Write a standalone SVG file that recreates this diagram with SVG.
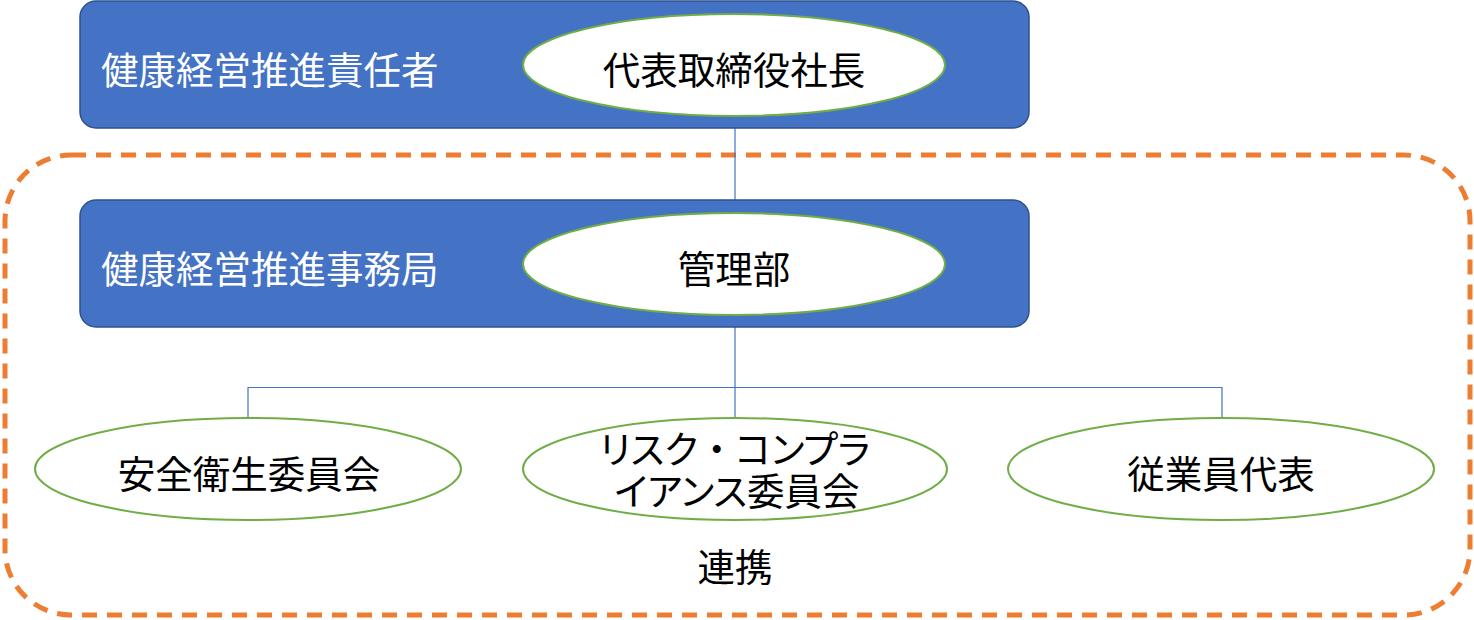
<svg xmlns="http://www.w3.org/2000/svg" width="1474" height="620" viewBox="0 0 1474 620">
<style>
.box{fill:#4472C4;stroke:#2F528F;stroke-width:1.5}
.ell{fill:#fff;stroke:#70AD47;stroke-width:2}
.wt{fill:#fff;font-family:"Noto Sans CJK JP","Noto Sans CJK SC",sans-serif;font-size:37.5px}
.bt{fill:#000;font-family:"Noto Sans CJK JP","Noto Sans CJK SC",sans-serif;font-size:37.5px;text-anchor:middle}
.palt{font-feature-settings:"palt"}
.nopalt{font-feature-settings:normal}
.con{stroke:#4472C4;stroke-width:1.2;fill:none}
</style>
<rect width="1474" height="620" fill="#fff"/>
<g id="group-border">
<rect x="5" y="155" width="1465" height="460" rx="66" ry="66" fill="none" stroke="#ED7D31" stroke-width="5" stroke-dasharray="15 10"/>
</g>
<g id="connectors">
<line class="con" x1="735" y1="128" x2="735" y2="200"/>
<line class="con" x1="735" y1="327" x2="735" y2="418"/>
<polyline class="con" points="248,418 248,387.5 1222,387.5 1222,418"/>
</g>
<g id="node-responsible">
<rect class="box" x="80" y="1" width="949" height="127" rx="16" ry="16"/>
<text class="wt" x="101" y="84">健康経営推進責任者</text>
</g>
<g id="node-president">
<ellipse class="ell" cx="734" cy="65" rx="211" ry="51"/>
<text class="bt" x="734" y="84">代表取締役社長</text>
</g>
<g id="node-office">
<rect class="box" x="80" y="200" width="949" height="127" rx="16" ry="16"/>
<text class="wt" x="101" y="283">健康経営推進事務局</text>
</g>
<g id="node-admin">
<ellipse class="ell" cx="734" cy="264" rx="211" ry="51"/>
<text class="bt" x="734" y="283">管理部</text>
</g>
<g id="node-safety">
<ellipse class="ell" cx="248" cy="469" rx="213" ry="51"/>
<text class="bt" x="249" y="488">安全衛生委員会</text>
</g>
<g id="node-compliance">
<ellipse class="ell" cx="735" cy="469" rx="212" ry="51"/>
<text class="bt palt" x="735" y="463">リスク<tspan class="nopalt">・</tspan>コンプラ</text>
<text class="bt palt" x="737" y="505">イアンス委員会</text>
</g>
<g id="node-employee">
<ellipse class="ell" cx="1221" cy="469" rx="213" ry="51"/>
<text class="bt" x="1221" y="488">従業員代表</text>
</g>
<g id="label-renkei">
<text class="bt" x="735" y="581">連携</text>
</g>
</svg>
